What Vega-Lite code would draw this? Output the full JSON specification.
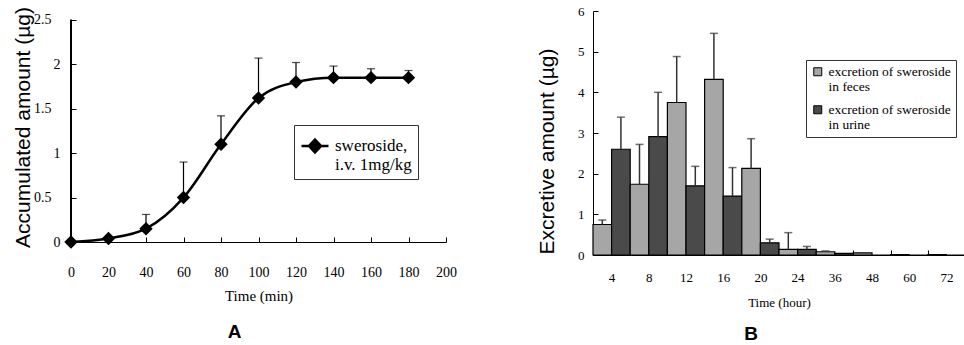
{
  "$schema": "https://vega.github.io/schema/vega-lite/v6.json",
  "background": "white",
  "padding": {"left": 12, "top": 5, "right": 0, "bottom": 0},
  "spacing": 79,
  "resolve": {"scale": {"color": "independent"}, "legend": {"color": "independent"}},
  "config": {
    "view": {"stroke": null},
    "font": "Liberation Serif",
    "axis": {"grid": false, "domainColor": "black", "tickColor": "black", "labelColor": "black", "titleColor": "black", "labelFont": "Liberation Serif", "titleFont": "Liberation Serif", "titleFontWeight": "normal", "domainWidth": 1, "tickWidth": 1, "labelOverlap": false},
    "title": {"font": "Liberation Sans", "fontWeight": "bold", "fontSize": 19, "color": "black"},
    "legend": {"labelFont": "Liberation Serif", "labelColor": "black"}
  },
  "hconcat": [
    {
      "width": 375,
      "height": 231,
      "title": {"text": "A", "orient": "bottom", "frame": "bounds", "anchor": "middle", "offset": 20},
      "data": {"values": [
        {"t": 0, "amount": 0.0, "upper": null, "series": "sweroside, i.v. 1mg/kg"},
        {"t": 20, "amount": 0.04, "upper": null, "series": "sweroside, i.v. 1mg/kg"},
        {"t": 40, "amount": 0.15, "upper": 0.31, "series": "sweroside, i.v. 1mg/kg"},
        {"t": 60, "amount": 0.5, "upper": 0.9, "series": "sweroside, i.v. 1mg/kg"},
        {"t": 80, "amount": 1.1, "upper": 1.42, "series": "sweroside, i.v. 1mg/kg"},
        {"t": 100, "amount": 1.62, "upper": 2.07, "series": "sweroside, i.v. 1mg/kg"},
        {"t": 120, "amount": 1.8, "upper": 2.02, "series": "sweroside, i.v. 1mg/kg"},
        {"t": 140, "amount": 1.85, "upper": 1.98, "series": "sweroside, i.v. 1mg/kg"},
        {"t": 160, "amount": 1.85, "upper": 1.95, "series": "sweroside, i.v. 1mg/kg"},
        {"t": 180, "amount": 1.85, "upper": 1.93, "series": "sweroside, i.v. 1mg/kg"}
      ]},
      "encoding": {
        "x": {"field": "t", "type": "quantitative", "scale": {"domain": [0, 200]},
          "axis": {"title": "Time (min)", "values": [0, 20, 40, 60, 80, 100, 120, 140, 160, 180, 200], "labelFont": "Liberation Serif", "labelFontSize": 14, "labelPadding": 28, "tickSize": -5, "labelFlush": false, "labelOverlap": false, "titleFontSize": 15, "titlePadding": 9, "titleColor": "black"}}
      },
      "layer": [
        {
          "transform": [{"filter": "datum.upper != null"}],
          "mark": {"type": "rule", "color": "black", "strokeWidth": 1.2},
          "encoding": {
            "y": {"field": "amount", "type": "quantitative", "scale": {"domain": [0, 2.59]},
              "axis": {"title": "Accumulated amount (µg)", "titleFont": "Liberation Sans", "titleFontSize": 21, "titleColor": "black", "titleY": 116, "domain": false, "values": [0, 0.5, 1, 1.5, 2, 2.5], "labelExpr": "datum.value % 1 == 0 ? format(datum.value, 'd') : format(datum.value, '.1f')", "labelFont": "Liberation Serif", "labelFontSize": 14, "labelPadding": {"condition": {"test": "datum.value % 1 != 0", "value": 25}, "value": 16}, "labelOverlap": false, "tickSize": -5, "titlePadding": 0}},
            "y2": {"field": "upper"}
          }
        },
        {
          "mark": {"type": "rule", "color": "black", "strokeWidth": 1},
          "encoding": {
            "x": {"datum": 0},
            "y": {"datum": 0},
            "y2": {"datum": 2.5}
          }
        },
        {
          "transform": [{"filter": "datum.upper != null"}],
          "mark": {"type": "tick", "orient": "horizontal", "color": "black", "size": 8, "thickness": 1.2},
          "encoding": {
            "y": {"field": "upper", "type": "quantitative"}
          }
        },
        {
          "mark": {"type": "line", "interpolate": "monotone", "strokeWidth": 2.5, "point": {"shape": "diamond", "size": 180, "filled": true}},
          "encoding": {
            "y": {"field": "amount", "type": "quantitative"},
            "color": {"field": "series", "type": "nominal", "scale": {"range": ["black"]},
              "legend": {"title": null, "orient": "none", "legendX": 223, "legendY": 114, "strokeColor": "#333", "padding": 6, "symbolType": "M-1,0L1,0M0,-0.48L0.45,0L0,0.48L-0.45,0Z", "symbolSize": 729, "symbolStrokeWidth": 2.5, "symbolFillColor": "black", "symbolStrokeColor": "black", "labelFontSize": 17, "labelOffset": 5, "labelExpr": "[slice(datum.label, 0, 10), slice(datum.label, 11)]"}}
          }
        }
      ]
    },
    {
      "width": 372,
      "height": 244,
      "title": {"text": "B", "orient": "bottom", "frame": "bounds", "anchor": "middle", "offset": 16},
      "data": {"values": [
        {"time": 4, "series": "excretion of sweroside in feces", "value": 0.75, "upper": 0.86},
        {"time": 4, "series": "excretion of sweroside in urine", "value": 2.6, "upper": 3.39},
        {"time": 8, "series": "excretion of sweroside in feces", "value": 1.74, "upper": 2.72},
        {"time": 8, "series": "excretion of sweroside in urine", "value": 2.91, "upper": 4.0},
        {"time": 12, "series": "excretion of sweroside in feces", "value": 3.75, "upper": 4.88},
        {"time": 12, "series": "excretion of sweroside in urine", "value": 1.7, "upper": 2.18},
        {"time": 16, "series": "excretion of sweroside in feces", "value": 4.32, "upper": 5.45},
        {"time": 16, "series": "excretion of sweroside in urine", "value": 1.45, "upper": 2.15},
        {"time": 20, "series": "excretion of sweroside in feces", "value": 2.13, "upper": 2.86},
        {"time": 20, "series": "excretion of sweroside in urine", "value": 0.3, "upper": 0.39},
        {"time": 24, "series": "excretion of sweroside in feces", "value": 0.14, "upper": 0.55},
        {"time": 24, "series": "excretion of sweroside in urine", "value": 0.14, "upper": 0.21},
        {"time": 36, "series": "excretion of sweroside in feces", "value": 0.08, "upper": 0.1},
        {"time": 36, "series": "excretion of sweroside in urine", "value": 0.04, "upper": null},
        {"time": 48, "series": "excretion of sweroside in feces", "value": 0.05, "upper": null},
        {"time": 48, "series": "excretion of sweroside in urine", "value": 0.0, "upper": null},
        {"time": 60, "series": "excretion of sweroside in feces", "value": 0.01, "upper": null},
        {"time": 60, "series": "excretion of sweroside in urine", "value": 0.0, "upper": null},
        {"time": 72, "series": "excretion of sweroside in feces", "value": 0.01, "upper": null},
        {"time": 72, "series": "excretion of sweroside in urine", "value": 0.0, "upper": null}
      ]},
      "layer": [
        {
          "mark": {"type": "bar", "stroke": "black", "strokeWidth": 1.2},
          "encoding": {
            "x": {"field": "time", "type": "ordinal", "scale": {"paddingInner": 0, "paddingOuter": 0},
              "axis": {"title": "Time (hour)", "labelAngle": 0, "tickSize": -5, "tickBand": "extent", "labelPadding": 21, "labelFont": "Liberation Serif", "labelFontSize": 13, "titleFontSize": 13, "titlePadding": 12, "titleColor": "black"}},
            "xOffset": {"field": "series", "type": "nominal", "scale": {"paddingInner": 0, "paddingOuter": 0}},
            "y": {"field": "value", "type": "quantitative", "scale": {"domain": [0, 6]},
              "axis": {"title": "Excretive amount (µg)", "titleFont": "Liberation Sans", "titleFontSize": 21, "titleColor": "black", "values": [0, 1, 2, 3, 4, 5, 6], "tickSize": -5, "labelPadding": 14, "labelFont": "Liberation Serif", "labelFontSize": 13, "titlePadding": 20, "titleY": 140}},
            "color": {"field": "series", "type": "nominal",
              "scale": {"domain": ["excretion of sweroside in feces", "excretion of sweroside in urine"], "range": ["#a6a6a6", "#4a4a4a"]},
              "legend": {"title": null, "orient": "none", "legendX": 213, "legendY": 49, "strokeColor": "#333", "padding": 5, "symbolType": "square", "symbolSize": 64, "symbolStrokeColor": "black", "symbolStrokeWidth": 1, "labelFontSize": 13.5, "labelOffset": 4, "rowPadding": 8, "labelExpr": "[slice(datum.label, 0, 22), slice(datum.label, 23)]"}}
          }
        },
        {
          "transform": [{"filter": "datum.upper != null"}],
          "mark": {"type": "rule", "color": "#333", "strokeWidth": 1.5},
          "encoding": {
            "x": {"field": "time", "type": "ordinal"},
            "xOffset": {"field": "series", "type": "nominal"},
            "y": {"field": "value", "type": "quantitative"},
            "y2": {"field": "upper"}
          }
        },
        {
          "transform": [{"filter": "datum.upper != null"}],
          "mark": {"type": "tick", "orient": "horizontal", "color": "#333", "size": 8, "thickness": 1.5},
          "encoding": {
            "x": {"field": "time", "type": "ordinal"},
            "xOffset": {"field": "series", "type": "nominal"},
            "y": {"field": "upper", "type": "quantitative"}
          }
        }
      ]
    }
  ]
}
